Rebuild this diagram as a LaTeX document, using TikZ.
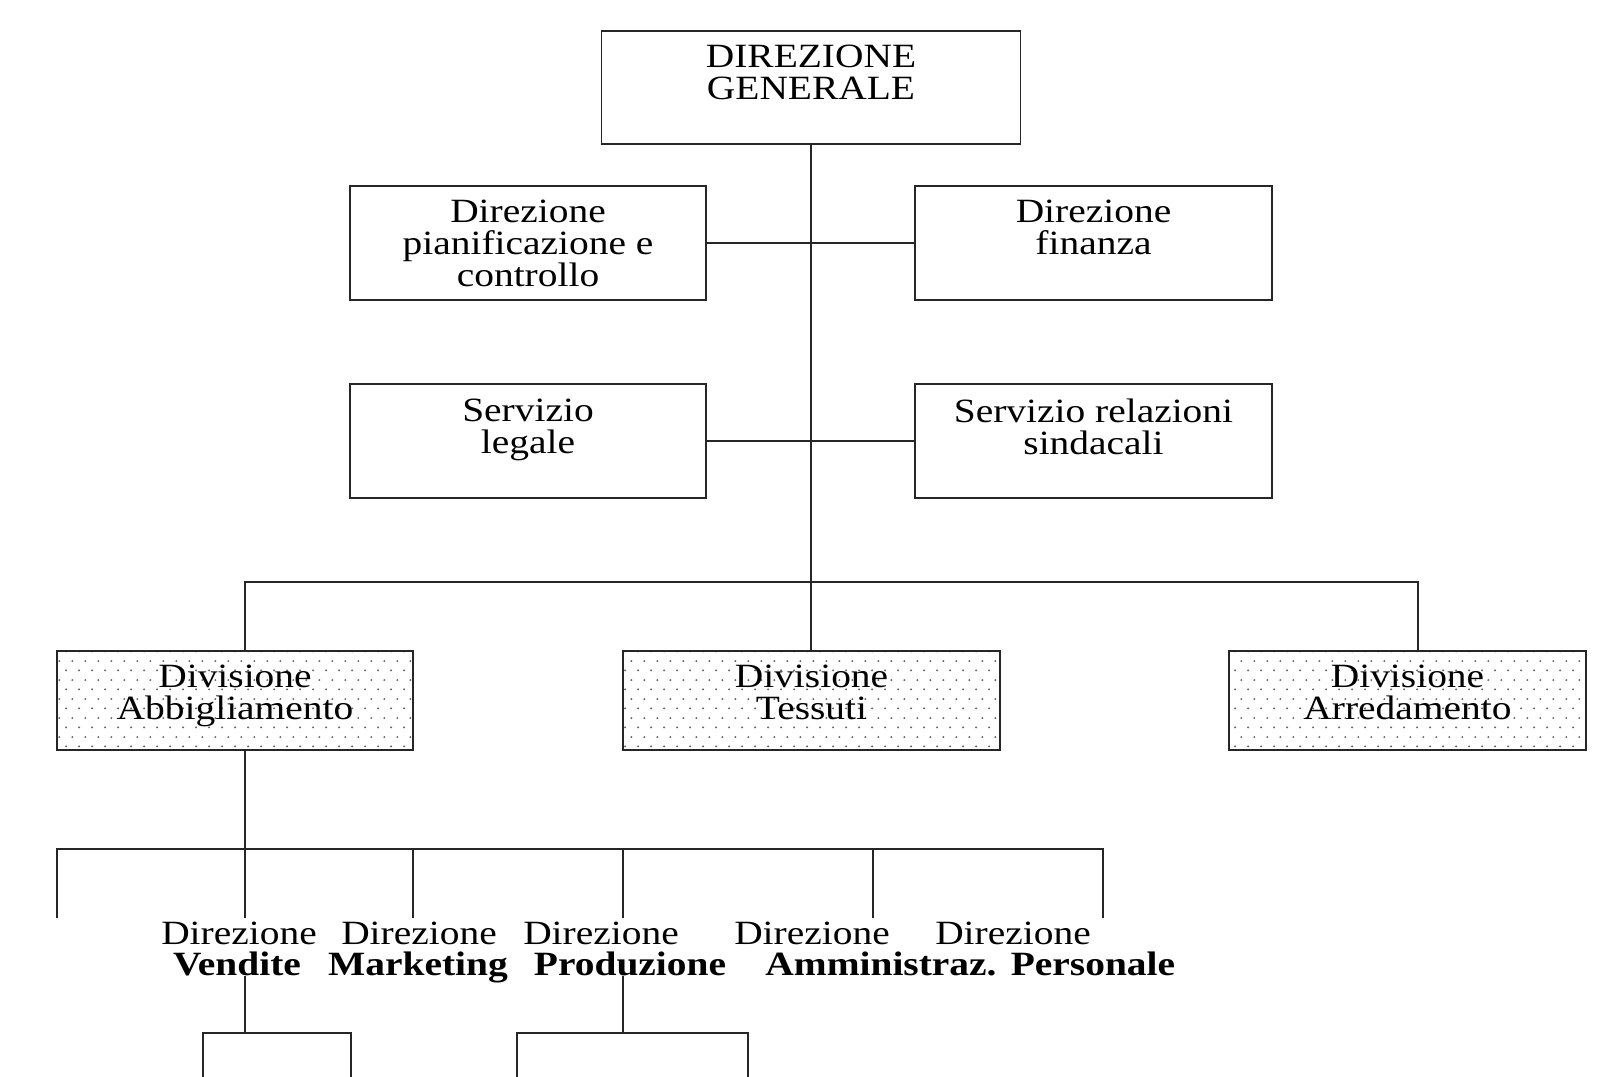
\documentclass[tikz,border=0pt]{standalone}
\usepackage{fontspec}
\newfontfamily\orgfont[FakeStretch=1.16]{Liberation Serif}
\usetikzlibrary{patterns.meta}
\tikzdeclarepattern{
  name=divdots,
  type=uncolored,
  bounding box={(0pt,0pt) and (6.35pt,9.6pt)},
  tile size={(6.35pt,9.6pt)},
  code={\fill (1.6pt,2.4pt) circle (0.55pt); \fill (4.775pt,7.2pt) circle (0.55pt);}
}
\begin{document}
\begin{tikzpicture}[x=0.5pt,y=-0.5pt,
  conn/.style={draw=black!85, line width=0.9pt},
  orgbox/.style={draw=black!85, line width=0.9pt, rectangle, inner sep=0pt},
  divbox/.style={orgbox, pattern={divdots}, pattern color=black!60},
  boxtext/.style={font=\orgfont\fontsize{17}{16}\selectfont, align=center, inner sep=0pt, anchor=north},
  lowtext/.style={font=\orgfont\fontsize{17}{16}\selectfont, inner sep=0pt, anchor=base},
  boldtext/.style={lowtext, font=\orgfont\fontsize{17}{16}\selectfont\bfseries}]
\clip (0,0) rectangle (1603,1077);
% boxes
\node[orgbox, minimum width=209.5pt, minimum height=56.5pt] (dg) at (811,87.5) {};
\node[orgbox, minimum width=178pt, minimum height=57pt] (pc) at (528,243) {};
\node[orgbox, minimum width=178.5pt, minimum height=57pt] (fin) at (1093.5,243) {};
\node[orgbox, minimum width=178pt, minimum height=57pt] (leg) at (528,441) {};
\node[orgbox, minimum width=178.5pt, minimum height=57pt] (rel) at (1093.5,441) {};
\node[divbox, minimum width=178pt, minimum height=49.5pt] (abb) at (235,700.5) {};
\node[divbox, minimum width=188.5pt, minimum height=49.5pt] (tes) at (811.5,700.5) {};
\node[divbox, minimum width=178.5pt, minimum height=49.5pt] (arr) at (1407.5,700.5) {};
\node[orgbox, minimum width=74pt, minimum height=60pt] (vbox) at (277,1093) {};
\node[orgbox, minimum width=115.5pt, minimum height=60pt] (pbox) at (632.5,1093) {};
% box texts
\node[boxtext] (dgt) at (811,45) {DIREZIONE\\GENERALE};
\node[boxtext] (pct) at (528,199.5) {Direzione\\pianificazione e\\controllo};
\node[boxtext] (fint) at (1093.5,199.5) {Direzione\\finanza};
\node[boxtext] (legt) at (528,398.5) {Servizio\\legale};
\node[boxtext] (relt) at (1093.5,398.5) {Servizio relazioni\\sindacali};
\node[boxtext] (abbt) at (235,665) {Divisione\\Abbigliamento};
\node[boxtext] (test) at (811.5,665) {Divisione\\Tessuti};
\node[boxtext] (arrt) at (1407.5,665) {Divisione\\Arredamento};
% lower labels
\node[lowtext] (d1) at (239,944) {Direzione};
\node[lowtext] (d2) at (419,944) {Direzione};
\node[lowtext] (d3) at (601,944) {Direzione};
\node[lowtext] (d4) at (812,944) {Direzione};
\node[lowtext] (d5) at (1013,944) {Direzione};
\node[boldtext] (n1) at (237,975) {Vendite};
\node[boldtext] (n2) at (418,975) {Marketing};
\node[boldtext] (n3) at (630,975) {Produzione};
\node[boldtext] (n4) at (881,975) {Amministraz.};
\node[boldtext] (n5) at (1093,975) {Personale};
% coordinates
\coordinate (trunk) at (811,582);
\coordinate (busL) at (245,582);
\coordinate (busR) at (1418,582);
\coordinate (b2L) at (57,849);
\coordinate (b2R) at (1103,849);
\coordinate (e1) at (57,918);
\coordinate (e2) at (245,918);
\coordinate (e3) at (413,918);
\coordinate (e4) at (623,918);
\coordinate (e5) at (873,918);
\coordinate (e6) at (1103,918);
\coordinate (vtop) at (245,976);
\coordinate (ptop) at (623,976);
% connectors
\draw[conn] (dg.south -| trunk) -- (tes.north -| trunk);
\draw[conn] (pc.east) -- (fin.west);
\draw[conn] (leg.east) -- (rel.west);
\draw[conn] (abb.north -| busL) -- (busL) -- (busR) -- (arr.north -| busR);
\draw[conn] (abb.south -| busL) -- (e2);
\draw[conn] (e1) -- (b2L) -- (b2R) -- (e6);
\draw[conn] (e3 |- b2L) -- (e3);
\draw[conn] (e4 |- b2L) -- (e4);
\draw[conn] (e5 |- b2L) -- (e5);
\draw[conn] (vtop) -- (vbox.north -| vtop);
\draw[conn] (ptop) -- (pbox.north -| ptop);
\end{tikzpicture}
\end{document}
